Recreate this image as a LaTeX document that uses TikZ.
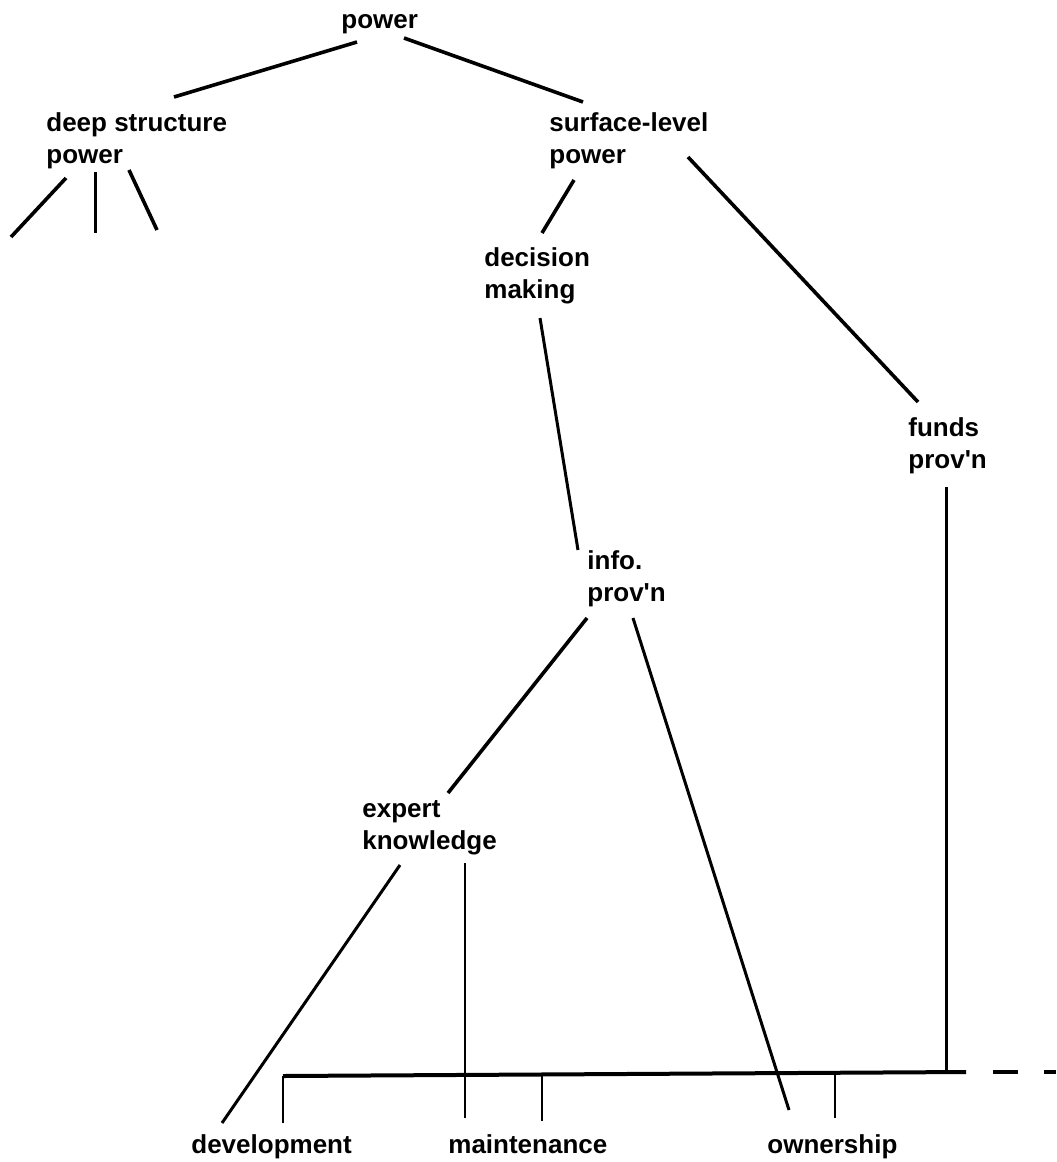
\documentclass[tikz,border=0pt]{standalone}
\usepackage{fontspec}
\newfontfamily\lblfont{Liberation Sans}
\newcommand\twoline[2]{\vtop{\baselineskip=16pt\hbox{#1}\hbox{#2}}}
\begin{document}
\begin{tikzpicture}[x=0.5pt,y=-0.5pt,
  lbl/.style={anchor=base west,inner sep=0pt,font=\lblfont\fontsize{13}{16}\selectfont\bfseries},
  edge/.style={line width=1.5pt},
  heavyedge/.style={line width=1.8pt},
  thinedge/.style={line width=1pt},
  barline/.style={line width=2pt}]
\useasboundingbox[fill=white] (0,0) rectangle (1056,1162);
% labels
\node[lbl] (power) at (341,28) {power};
\node[lbl] (deep) at (46,131) {\twoline{deep structure}{power}};
\node[lbl] (surface) at (549,131) {\twoline{surface-level}{power}};
\node[lbl] (decision) at (484,266) {\twoline{decision}{making}};
\node[lbl] (funds) at (908,436) {\twoline{funds}{prov'n}};
\node[lbl] (info) at (587,569) {\twoline{info.}{prov'n}};
\node[lbl] (expert) at (362,817) {\twoline{expert}{knowledge}};
\node[lbl] (dev) at (191,1153) {development};
\node[lbl] (maint) at (448,1153) {maintenance};
\node[lbl] (own) at (767,1153) {ownership};
% connector end points
\coordinate (pwL) at (357,42);   \coordinate (dpT) at (174,97);
\coordinate (pwR) at (404,38);   \coordinate (sfT) at (583,102);
\coordinate (dp1) at (66,178);   \coordinate (dp1e) at (11,237);
\coordinate (dp2) at (95,172);   \coordinate (dp2e) at (95,233);
\coordinate (dp3) at (129,170);  \coordinate (dp3e) at (157,230);
\coordinate (sfD) at (574,180);  \coordinate (dcT) at (542,233);
\coordinate (sfF) at (688,157);  \coordinate (fdT) at (918,402);
\coordinate (dcB) at (540,318);  \coordinate (ifT) at (578,550);
\coordinate (ifL) at (587,618);  \coordinate (exT) at (448,793);
\coordinate (ifR) at (633,618);  \coordinate (owT) at (789,1110);
\coordinate (exL) at (400,865);  \coordinate (dvT) at (222,1123);
\coordinate (exR) at (465,863);  \coordinate (mnT) at (465,1118);
\coordinate (fdB) at (946,487);
\coordinate (barL) at (283,1076); \coordinate (barR) at (966,1072);
\coordinate (tDev) at (283,1123);
\coordinate (bM) at (542,1075);  \coordinate (tMnt) at (542,1121);
\coordinate (bO) at (835,1073);  \coordinate (tOwn) at (835,1118);
\coordinate (bF) at (946,1072);
\coordinate (dashA) at (993,1072); \coordinate (dashB) at (1056,1072);
% connectors
\draw[heavyedge] (pwL) -- (dpT);
\draw[heavyedge] (pwR) -- (sfT);
\draw[heavyedge] (dp1) -- (dp1e);
\draw[edge] (dp2) -- (dp2e);
\draw[heavyedge] (dp3) -- (dp3e);
\draw[heavyedge] (sfD) -- (dcT);
\draw[heavyedge] (sfF) -- (fdT);
\draw[edge] (dcB) -- (ifT);
\draw[heavyedge] (ifL) -- (exT);
\draw[edge] (ifR) -- (owT);
\draw[edge] (exL) -- (dvT);
\draw[thinedge] (exR) -- (mnT);
\draw[edge] (fdB) -- (bF);
\draw[barline] (barL) -- (barR);
\draw[thinedge] (barL) -- (tDev);
\draw[thinedge] (bM) -- (tMnt);
\draw[thinedge] (bO) -- (tOwn);
\draw[barline, dash pattern=on 12.5pt off 13pt] (dashA) -- (dashB);
\end{tikzpicture}
\end{document}
